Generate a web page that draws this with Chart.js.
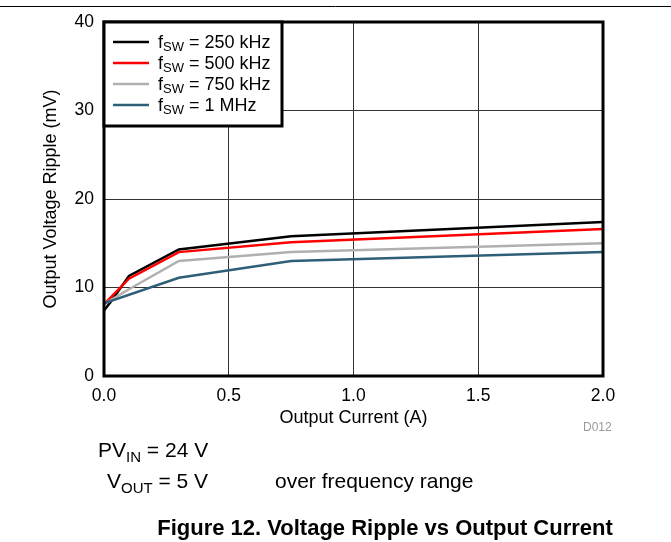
<!DOCTYPE html>
<html><head><meta charset="utf-8">
<script src="https://cdn.jsdelivr.net/npm/chart.js@4.4.1/dist/chart.umd.min.js"></script>
<style>html,body{margin:0;padding:0;background:#fff}#wrap{width:671px;height:542px;position:relative}</style>
</head><body><div id="wrap"><canvas id="c" width="671" height="542"></canvas></div>
<script>
const xTicks = [0, 0.5, 1.0, 1.5, 2.0];
const yTicks = [0, 10, 20, 30, 40];
const seriesNames = ['250 kHz', '500 kHz', '750 kHz', '1 MHz'];
const seriesColors = ['#000000', '#ff0000', '#b0b0b0', '#2f5f78'];
const current250 = [0, 0.025, 0.1, 0.3, 0.75, 2.0];
const ripple250  = [7.4, 8.3, 11.3, 14.3, 15.8, 17.4];
const current500 = [0, 0.1, 0.3, 0.75, 2.0];
const ripple500  = [8.1, 11.0, 14.0, 15.1, 16.6];
const current750 = [0, 0.1, 0.3, 0.75, 2.0];
const ripple750  = [8.1, 9.8, 13.0, 14.0, 15.0];
const current1M  = [0, 0.3, 0.75, 2.0];
const ripple1M   = [8.2, 11.1, 13.0, 14.0];

const xs = [current250, current500, current750, current1M];
const ys = [ripple250, ripple500, ripple750, ripple1M];
const FONT = '"Liberation Sans", Arial, sans-serif';

const datasets = seriesNames.map((n, i) => ({
  label: n,
  data: xs[i].map((x, j) => ({x: x, y: ys[i][j]})),
  borderColor: seriesColors[i],
  borderWidth: 2.5,
  pointRadius: 0,
  showLine: true,
  fill: false,
  tension: 0
})).reverse();

function subText(ctx, x, y, parts) {
  let cx = x;
  for (const p of parts) {
    ctx.font = (p[3] || '') + p[1] + 'px ' + FONT;
    ctx.fillText(p[0], cx, y + (p[2] || 0));
    cx += ctx.measureText(p[0]).width;
  }
  return cx;
}

const deco = {
  id: 'deco',
  afterDatasetsDraw(chart) {
    const ctx = chart.ctx;
    const a = chart.chartArea;
    ctx.save();
    ctx.strokeStyle = '#000';
    ctx.lineWidth = 3;
    ctx.strokeRect(a.left, a.top, a.right - a.left, a.bottom - a.top);
    const lx = a.left, ly = a.top, lw = 178, lh = 104;
    ctx.fillStyle = '#fff';
    ctx.fillRect(lx, ly, lw, lh);
    ctx.strokeRect(lx, ly, lw, lh);
    ctx.textBaseline = 'alphabetic';
    ctx.textAlign = 'left';
    for (let i = 0; i < 4; i++) {
      const ry = ly + 20 + i * 21;
      ctx.strokeStyle = seriesColors[i];
      ctx.lineWidth = 2.5;
      ctx.beginPath(); ctx.moveTo(lx + 9, ry); ctx.lineTo(lx + 45, ry); ctx.stroke();
      ctx.fillStyle = '#000';
      subText(ctx, lx + 54, ry + 6, [['f', 18, 0], ['SW', 13, 3], [' = ' + seriesNames[i], 18, 0]]);
    }
    ctx.restore();
  },
  afterDraw(chart) {
    const ctx = chart.ctx;
    const a = chart.chartArea;
    ctx.save();
    ctx.strokeStyle = '#000'; ctx.lineWidth = 1;
    ctx.beginPath(); ctx.moveTo(0, 6.5); ctx.lineTo(671, 6.5); ctx.stroke();
    ctx.fillStyle = '#000';
    ctx.font = '18px ' + FONT;
    ctx.textAlign = 'center'; ctx.textBaseline = 'middle';
    ctx.fillText('Output Current (A)', (a.left + a.right) / 2, 418);
    ctx.save();
    ctx.translate(51, (a.top + a.bottom) / 2);
    ctx.rotate(-Math.PI / 2);
    ctx.fillText('Output Voltage Ripple (mV)', 0, 0);
    ctx.restore();
    ctx.fillStyle = '#999';
    ctx.font = '12px ' + FONT;
    ctx.textAlign = 'left';
    ctx.fillText('D012', 583, 428);
    ctx.fillStyle = '#000';
    ctx.textBaseline = 'alphabetic';
    subText(ctx, 98, 457, [['PV', 21, 0], ['IN', 15, 5], [' = 24 V', 21, 0]]);
    subText(ctx, 107, 488, [['V', 21, 0], ['OUT', 15, 5], [' = 5 V', 21, 0]]);
    ctx.font = '21px ' + FONT;
    ctx.fillText('over frequency range', 275, 488);
    ctx.font = 'bold 22px ' + FONT;
    ctx.textAlign = 'center';
    ctx.fillText('Figure 12. Voltage Ripple vs Output Current', 385, 535);
    ctx.restore();
  }
};

new Chart(document.getElementById('c'), {
  type: 'scatter',
  data: { datasets },
  options: {
    responsive: false,
    animation: false,
    events: [],
    layout: { padding: { left: 0, right: 68, top: 22, bottom: 0 } },
    plugins: { legend: { display: false }, tooltip: { enabled: false } },
    scales: {
      x: {
        type: 'linear', min: 0, max: 2,
        afterBuildTicks(s) { s.ticks = xTicks.map(v => ({ value: v })); },
        afterFit(s) { s.height = 166; },
        grid: { color: '#333', lineWidth: 1, drawTicks: false },
        border: { display: false },
        ticks: { color: '#000', padding: 10, font: { family: FONT, size: 17.5 },
          callback: v => v.toFixed(1) }
      },
      y: {
        type: 'linear', min: 0, max: 40,
        afterBuildTicks(s) { s.ticks = yTicks.map(v => ({ value: v })); },
        afterFit(s) { s.width = 104; },
        grid: { color: '#333', lineWidth: 1, drawTicks: false },
        border: { display: false },
        ticks: { color: '#000', padding: 10, font: { family: FONT, size: 17.5 },
          callback: v => String(v) }
      }
    }
  },
  plugins: [deco]
});
</script></body></html>
